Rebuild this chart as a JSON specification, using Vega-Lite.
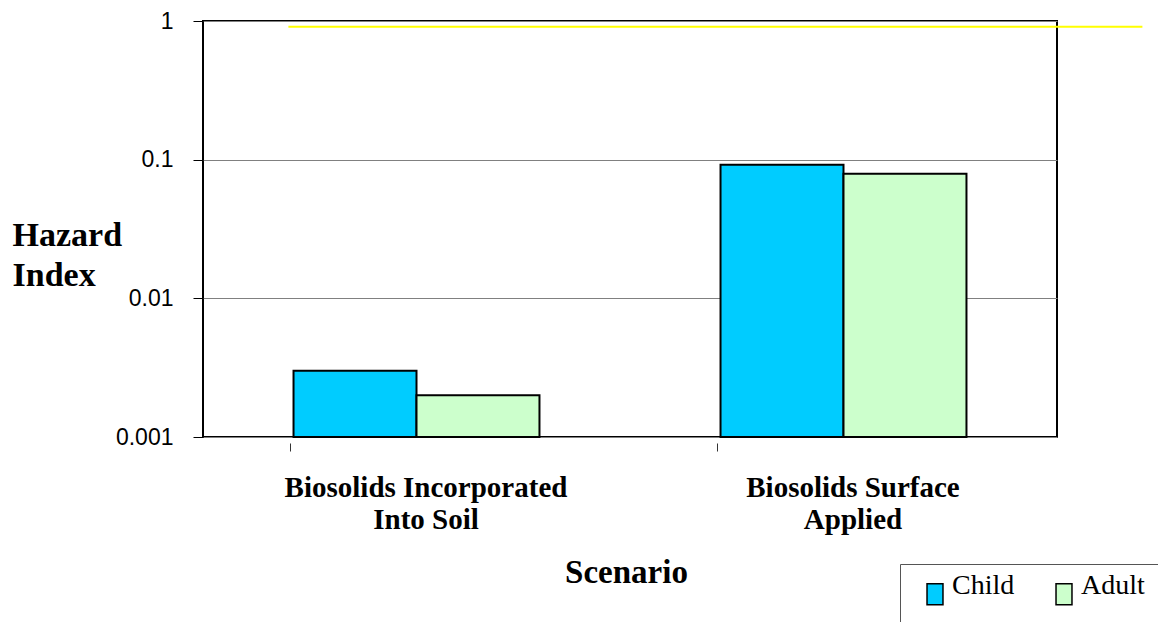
{
  "$schema": "https://vega.github.io/schema/vega-lite/v6.json",
  "width": 854,
  "height": 416,
  "autosize": {"type": "none"},
  "padding": {"left": 203, "top": 21, "right": 101, "bottom": 185},
  "background": "white",
  "config": {
    "view": {"stroke": "black", "strokeWidth": 2},
    "axis": {"labelColor": "black", "titleColor": "black"}
  },
  "datasets": {
    "bars": [
      {"scenario": "Biosolids Incorporated Into Soil", "person": "Child", "hi": 0.003},
      {"scenario": "Biosolids Incorporated Into Soil", "person": "Adult", "hi": 0.002},
      {"scenario": "Biosolids Surface Applied", "person": "Child", "hi": 0.092},
      {"scenario": "Biosolids Surface Applied", "person": "Adult", "hi": 0.079}
    ],
    "refline": [{"start": 0.1, "end": 1.1, "hi": 0.91}]
  },
  "layer": [
    {
      "data": {"name": "bars"},
      "mark": {"type": "bar", "stroke": "black", "strokeWidth": 2},
      "encoding": {
        "x": {
          "field": "scenario",
          "type": "nominal",
          "sort": null,
          "scale": {"paddingInner": 0.424, "paddingOuter": 0.212},
          "axis": {
            "title": "Scenario",
            "titleFont": "Liberation Serif",
            "titleFontWeight": "bold",
            "titleFontSize": 33,
            "titleAlign": "center",
            "titleBaseline": "alphabetic",
            "titleX": 423,
            "titleY": 139,
            "domain": false,
            "offset": 6,
            "ticks": true,
            "tickSize": 8,
            "tickColor": "#333333",
            "tickWidth": 1,
            "tickOffset": -127,
            "labelAngle": 0,
            "labelFont": "Liberation Serif",
            "labelFontWeight": "bold",
            "labelFontSize": 29,
            "labelLineHeight": 32,
            "labelPadding": 22,
            "labelLimit": 500,
            "labelOffset": 136,
            "labelExpr": "datum.value == 'Biosolids Incorporated Into Soil' ? ['Biosolids Incorporated', 'Into Soil'] : ['Biosolids Surface', 'Applied']"
          }
        },
        "xOffset": {
          "field": "person",
          "type": "nominal",
          "sort": ["Child", "Adult"],
          "scale": {"paddingInner": 0, "paddingOuter": 0}
        },
        "y": {
          "field": "hi",
          "type": "quantitative",
          "scale": {"type": "log", "domain": [0.001, 1], "nice": false},
          "axis": {
            "values": [0.001, 0.01, 0.1, 1],
            "format": "~g",
            "title": ["Hazard", "Index"],
            "titleAngle": 0,
            "titleAlign": "left",
            "titleBaseline": "alphabetic",
            "titleX": -191,
            "titleY": 224,
            "titleFont": "Liberation Serif",
            "titleFontWeight": "bold",
            "titleFontSize": 34,
            "titleLineHeight": 40,
            "domain": false,
            "grid": true,
            "gridColor": "#808080",
            "gridWidth": 1,
            "tickSize": 10,
            "tickColor": "black",
            "tickWidth": 1,
            "labelFont": "Liberation Sans",
            "labelFontSize": 23,
            "labelPadding": 20
          }
        },
        "y2": {"datum": 0.001},
        "color": {
          "field": "person",
          "type": "nominal",
          "scale": {"domain": ["Child", "Adult"], "range": ["#00CCFF", "#CCFFCC"]},
          "legend": {
            "title": null,
            "orient": "none",
            "legendX": 697,
            "legendY": 543,
            "direction": "horizontal",
            "fillColor": "white",
            "strokeColor": "#555555",
            "padding": 16,
            "symbolType": "M-0.76,-1H0.76V1H-0.76Z",
            "symbolSize": 441,
            "symbolStrokeColor": "black",
            "symbolStrokeWidth": 1.5,
            "symbolOffset": 5,
            "labelOffset": 3,
            "labelFont": "Liberation Serif",
            "labelFontSize": 28,
            "labelColor": "black",
            "labelBaseline": "alphabetic",
            "columnPadding": 30
          }
        }
      }
    },
    {
      "data": {"name": "refline"},
      "mark": {"type": "rule", "color": "#FFFF00", "strokeWidth": 2, "clip": false},
      "encoding": {
        "x": {"field": "start", "type": "quantitative", "scale": {"domain": [0, 1], "nice": false, "zero": false}, "axis": null},
        "x2": {"field": "end"},
        "y": {"field": "hi", "type": "quantitative"}
      }
    }
  ],
  "resolve": {"scale": {"x": "independent"}}
}
